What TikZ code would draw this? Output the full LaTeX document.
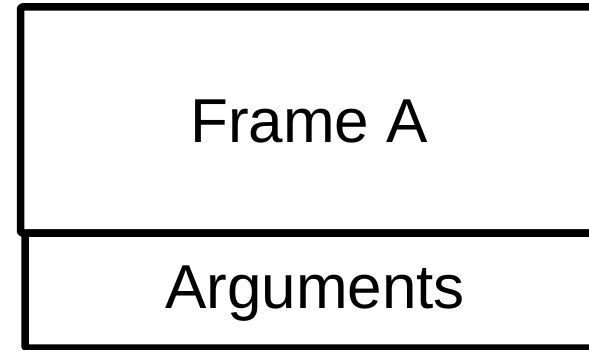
\documentclass[tikz,border=0pt]{standalone}
\usepackage{fontspec}
\setmainfont{Liberation Sans}
\begin{document}
\begin{tikzpicture}[x=1pt,y=1pt,
  framebox/.style={draw=black,line width=7.5pt,line join=round,rounded corners=2pt},
  label/.style={inner sep=0pt,anchor=base,font=\fontsize{62}{62}\selectfont}]
\useasboundingbox (0,0) rectangle (589,349);
\clip (0,0) rectangle (589,349);
\draw[framebox] (20.5,342) rectangle (620,116);
\draw[framebox] (25,116) rectangle (630,1);
\node[label] (frame) at (309,207) {Frame A};
\node[label] (args) at (315,41) {Arguments};
\end{tikzpicture}
\end{document}
